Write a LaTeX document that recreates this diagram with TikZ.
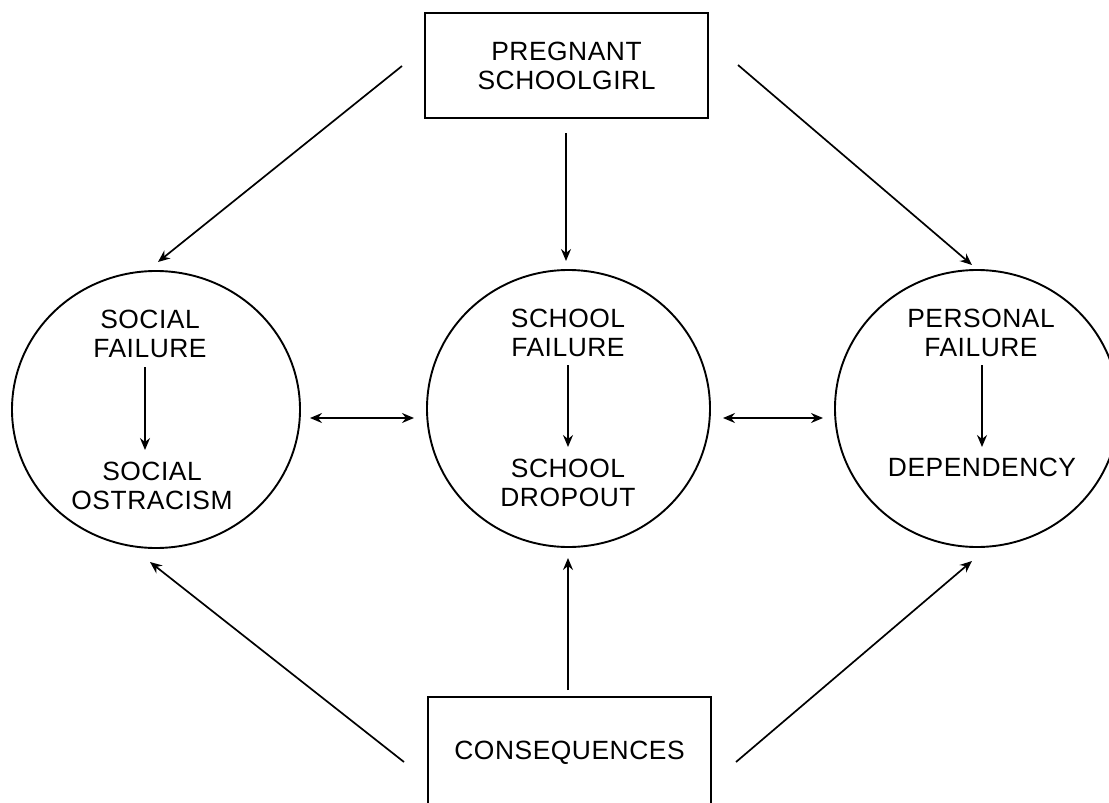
\documentclass[tikz,border=0pt]{standalone}
\usepackage{fontspec}
\setmainfont{Liberation Sans}[LetterSpace=2]
\usetikzlibrary{arrows.meta}
\begin{document}
\begin{tikzpicture}[x=0.5pt,y=-0.5pt,
  every node/.style={font=\fontsize{13.2}{14.5}\selectfont, align=center, inner sep=0pt},
  box/.style={draw, line width=0.95pt, minimum width=141.5pt, minimum height=52.5pt},
  conn/.style={line width=0.85pt, -{Stealth[length=6pt,width=5pt,inset=2pt]}},
  dconn/.style={line width=0.85pt, {Stealth[length=6pt,width=5pt,inset=2pt]}-{Stealth[length=6pt,width=5pt,inset=2pt]}}
]
\useasboundingbox (0,0) rectangle (1109,803);
% boxes
\node[box] (top) at (566.5,65.5) {PREGNANT\\SCHOOLGIRL};
\node[box, minimum height=56pt] (bot) at (569.5,753) {CONSEQUENCES};
% circles
\draw[line width=0.95pt] (156,409.5) ellipse [x radius=144, y radius=138.5];
\draw[line width=0.95pt] (568.5,408.5) ellipse [x radius=141.5, y radius=138.5];
\draw[line width=0.95pt] (977,408.5) ellipse [x radius=142, y radius=138.5];
% inner texts
\node (sf) at (150,334) {SOCIAL\\FAILURE};
\node (so) at (152,486) {SOCIAL\\OSTRACISM};
\node (cf) at (568,332.5) {SCHOOL\\FAILURE};
\node (cd) at (568,482.5) {SCHOOL\\DROPOUT};
\node (pf) at (981,332.5) {PERSONAL\\FAILURE};
\node (pd) at (982,467) {DEPENDENCY};
% inner arrows
\coordinate (sa1) at (145,367); \coordinate (sa2) at (145,450);
\coordinate (ca1) at (568,365); \coordinate (ca2) at (568,447);
\coordinate (pa1) at (982,365); \coordinate (pa2) at (982,447);
\draw[conn] (sa1) -- (sa2);
\draw[conn] (ca1) -- (ca2);
\draw[conn] (pa1) -- (pa2);
% horizontal double arrows
\coordinate (h1a) at (310,418); \coordinate (h1b) at (414,418);
\coordinate (h2a) at (723,418); \coordinate (h2b) at (823,418);
\draw[dconn] (h1a) -- (h1b);
\draw[dconn] (h2a) -- (h2b);
% diagonal arrows from top
\coordinate (t1a) at (402,66); \coordinate (t1b) at (158,262);
\coordinate (t2a) at (566,133); \coordinate (t2b) at (566,261);
\coordinate (t3a) at (738,65); \coordinate (t3b) at (972,265);
\draw[conn] (t1a) -- (t1b);
\draw[conn] (t2a) -- (t2b);
\draw[conn] (t3a) -- (t3b);
% arrows from bottom
\coordinate (b1a) at (404,762); \coordinate (b1b) at (150,562);
\coordinate (b2a) at (568,690); \coordinate (b2b) at (568,558);
\coordinate (b3a) at (736,762); \coordinate (b3b) at (972,561);
\draw[conn] (b1a) -- (b1b);
\draw[conn] (b2a) -- (b2b);
\draw[conn] (b3a) -- (b3b);
\end{tikzpicture}
\end{document}
